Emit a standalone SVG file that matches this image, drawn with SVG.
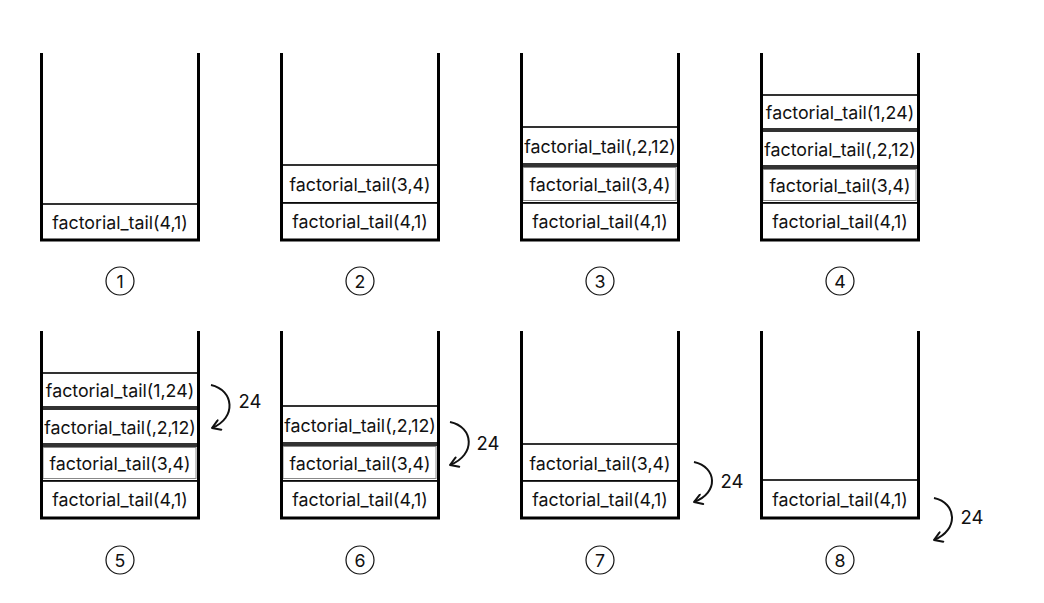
<svg xmlns="http://www.w3.org/2000/svg" width="1044" height="603" viewBox="0 0 1044 603">
<defs>
<style>
.wall{fill:none;stroke:#000;stroke-width:3}
.box{fill:#fff;stroke:#000;stroke-width:1.6}
.inner{fill:none;stroke:#888;stroke-width:1}
.t{font-family:Inter,"Liberation Sans",sans-serif;font-size:17.8px;fill:#111;text-anchor:middle}
.num{font-family:Inter,"Liberation Sans",sans-serif;font-size:18.5px;fill:#111;text-anchor:middle}
.circ{fill:none;stroke:#111;stroke-width:1.2}
.arc{fill:none;stroke:#111;stroke-width:2}
</style>
<marker id="ah" viewBox="0 0 12 12" refX="10" refY="6" markerWidth="12" markerHeight="12" markerUnits="userSpaceOnUse" orient="auto">
<path d="M2,1 L10,6 L2,11" fill="none" stroke="#111" stroke-width="2" stroke-linecap="round" stroke-linejoin="round"/>
</marker>
</defs>
<rect width="1044" height="603" fill="#fff"/>

<g id="stack1">
<rect class="box" x="41" y="204" width="158" height="36"/>
<text class="t" x="120" y="229">factorial_tail(4,1)</text>
<path class="wall" d="M41.5,53 V240 H198.5 V53"/>
<circle class="circ" cx="120" cy="281" r="14"/>
<text class="t" x="120" y="287.5">1</text>
</g>

<g id="stack2">
<rect class="box" x="281" y="165" width="158" height="38"/>
<text class="t" x="360" y="191">factorial_tail(3,4)</text>
<rect class="box" x="281" y="203" width="158" height="37"/>
<text class="t" x="360" y="228">factorial_tail(4,1)</text>
<path class="wall" d="M281.5,53 V240 H438.5 V53"/>
<circle class="circ" cx="360" cy="281" r="14"/>
<text class="t" x="360" y="287.5">2</text>
</g>

<g id="stack3">
<rect class="box" x="521" y="127" width="158" height="37"/>
<text class="t" x="600" y="153">factorial_tail(,2,12)</text>
<rect class="box" x="521" y="166" width="158" height="37"/>
<rect class="inner" x="523" y="167.5" width="153" height="33"/>
<text class="t" x="600" y="191">factorial_tail(3,4)</text>
<rect class="box" x="521" y="203" width="158" height="37"/>
<text class="t" x="600" y="228">factorial_tail(4,1)</text>
<path class="wall" d="M521.5,53 V240 H678.5 V53"/>
<circle class="circ" cx="600" cy="281" r="14"/>
<text class="t" x="600" y="287.5">3</text>
</g>

<g id="stack4">
<rect class="box" x="761" y="95" width="158" height="34"/>
<text class="t" x="840" y="119">factorial_tail(1,24)</text>
<rect class="box" x="761" y="131" width="158" height="35"/>
<text class="t" x="840" y="156">factorial_tail(,2,12)</text>
<rect class="box" x="761" y="168" width="158" height="35"/>
<rect class="inner" x="763" y="169.5" width="153" height="31"/>
<text class="t" x="840" y="192">factorial_tail(3,4)</text>
<rect class="box" x="761" y="203" width="158" height="37"/>
<text class="t" x="840" y="228">factorial_tail(4,1)</text>
<path class="wall" d="M761.5,53 V240 H918.5 V53"/>
<circle class="circ" cx="840" cy="281" r="14"/>
<text class="t" x="840" y="287.5">4</text>
</g>

<g id="stack5">
<rect class="box" x="41" y="373" width="158" height="34"/>
<text class="t" x="120" y="397">factorial_tail(1,24)</text>
<rect class="box" x="41" y="409" width="158" height="35"/>
<text class="t" x="120" y="434">factorial_tail(,2,12)</text>
<rect class="box" x="41" y="446" width="158" height="35"/>
<rect class="inner" x="43" y="447.5" width="153" height="31"/>
<text class="t" x="120" y="470">factorial_tail(3,4)</text>
<rect class="box" x="41" y="481" width="158" height="37"/>
<text class="t" x="120" y="506">factorial_tail(4,1)</text>
<path class="wall" d="M41.5,331 V518 H198.5 V331"/>
<circle class="circ" cx="120" cy="560" r="14"/>
<text class="t" x="120" y="566.5">5</text>
</g>

<g id="stack6">
<rect class="box" x="281" y="406" width="158" height="37"/>
<text class="t" x="360" y="432">factorial_tail(,2,12)</text>
<rect class="box" x="281" y="445" width="158" height="36"/>
<rect class="inner" x="283" y="446.5" width="153" height="32"/>
<text class="t" x="360" y="470">factorial_tail(3,4)</text>
<rect class="box" x="281" y="481" width="158" height="37"/>
<text class="t" x="360" y="506">factorial_tail(4,1)</text>
<path class="wall" d="M281.5,331 V518 H438.5 V331"/>
<circle class="circ" cx="360" cy="560" r="14"/>
<text class="t" x="360" y="566.5">6</text>
</g>

<g id="stack7">
<rect class="box" x="521" y="444" width="158" height="37"/>
<text class="t" x="600" y="470">factorial_tail(3,4)</text>
<rect class="box" x="521" y="481" width="158" height="37"/>
<text class="t" x="600" y="506">factorial_tail(4,1)</text>
<path class="wall" d="M521.5,331 V518 H678.5 V331"/>
<circle class="circ" cx="600" cy="560" r="14"/>
<text class="t" x="600" y="566.5">7</text>
</g>

<g id="stack8">
<rect class="box" x="761" y="480" width="158" height="38"/>
<text class="t" x="840" y="506">factorial_tail(4,1)</text>
<path class="wall" d="M761.5,331 V518 H918.5 V331"/>
<circle class="circ" cx="840" cy="560" r="14"/>
<text class="t" x="840" y="566.5">8</text>
</g>

<g id="connectors">
<path class="arc" d="M211,385 C234,390 237,418 212,428" marker-end="url(#ah)"/>
<text class="num" x="250" y="408">24</text>
<path class="arc" d="M450,422 C474,427 476,455 450,465" marker-end="url(#ah)"/>
<text class="num" x="488" y="450">24</text>
<path class="arc" d="M694,462 C717,467 719,493 694,502" marker-end="url(#ah)"/>
<text class="num" x="732" y="488">24</text>
<path class="arc" d="M934,498 C957,503 959,530 934,540" marker-end="url(#ah)"/>
<text class="num" x="972" y="524">24</text>
</g>
</svg>
